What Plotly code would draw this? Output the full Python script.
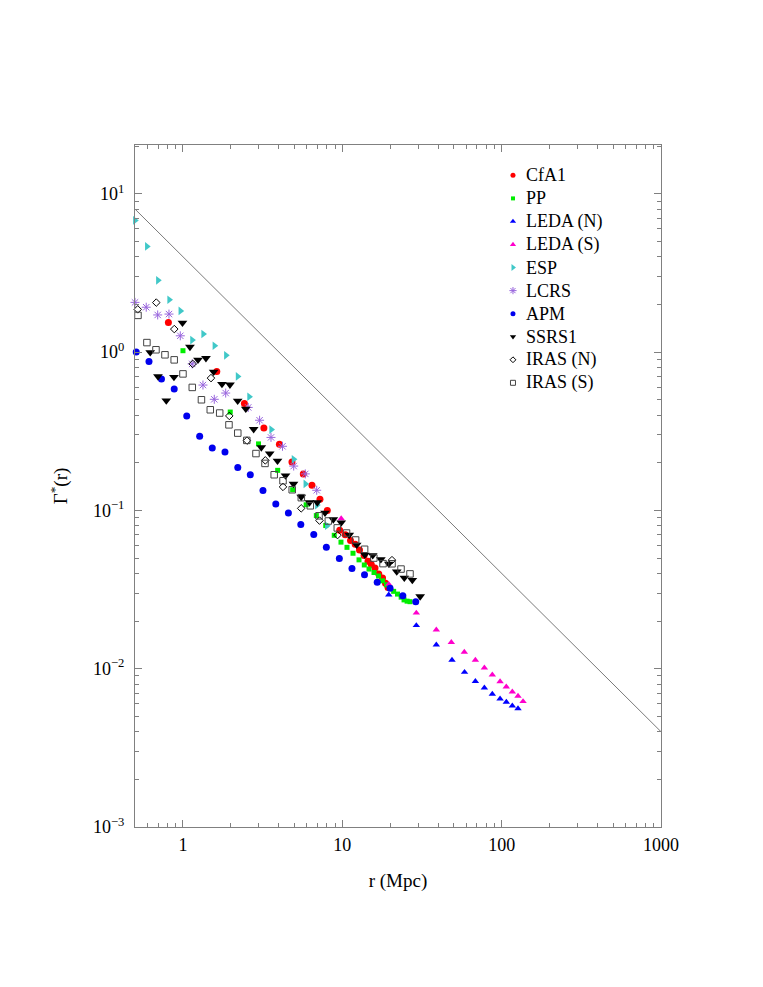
import plotly.graph_objects as go

# ---------------- data ----------------
cfa1_r = [0.81, 1.63, 2.43, 3.22, 4.03, 4.83, 5.69, 6.45, 7.24, 8.05, 9.63, 10.44, 11.26, 12.05,
          12.82, 13.7, 14.5, 15.2, 16.04, 16.93, 17.88, 18.67, 19.36]
cfa1_g = [1.54, 0.755, 0.473, 0.332, 0.262, 0.202, 0.170, 0.144, 0.1175, 0.0997, 0.075, 0.0701,
          0.0645, 0.0612, 0.0561, 0.0518, 0.0478, 0.0455, 0.0432, 0.0397, 0.0374, 0.0347, 0.0326]

pp_r = [1.0, 1.98, 2.98, 3.93, 4.88, 5.93, 6.87, 7.87, 8.9, 9.81, 10.7, 11.67, 12.73, 13.74, 14.71,
        15.81, 16.88, 17.88, 18.95, 20.0, 21.0, 22.2, 23.4, 24.4, 25.5, 26.6]
pp_g = [1.02, 0.418, 0.263, 0.179, 0.135, 0.1085, 0.0927, 0.0802, 0.0696, 0.063, 0.0584, 0.0536,
        0.0487, 0.0452, 0.0426, 0.0405, 0.0385, 0.0359, 0.0339, 0.0323, 0.0308, 0.0296, 0.0283,
        0.0272, 0.0267, 0.0265]

ledan_r = [19.56, 29.14, 38.9, 48.8, 58.5, 68.4, 77.9, 87.4, 97.7, 107.0, 116.7, 126.7]
ledan_g = [0.0293, 0.01877, 0.01414, 0.01133, 0.0095, 0.00833, 0.00757, 0.00691, 0.00645,
           0.00615, 0.00583, 0.0056]

ledas_r = [9.84, 19.56, 29.14, 38.9, 48.3, 58.3, 68.4, 77.9, 87.4, 97.7, 106.9, 116.7, 126.7, 136.2]
ledas_g = [0.0887, 0.0342, 0.0225, 0.0176, 0.01468, 0.01273, 0.01133, 0.01013, 0.00915, 0.00829,
           0.00769, 0.00715, 0.00671, 0.00621]

esp_r = [0.5, 0.594, 0.697, 0.820, 0.964, 1.142, 1.341, 1.577, 1.862, 2.205, 2.604, 3.58, 4.95,
         5.87, 6.94, 8.01]
esp_g = [6.79, 4.65, 2.84, 2.14, 1.82, 1.19, 1.30, 1.096, 0.954, 0.702, 0.522, 0.324, 0.210, 0.147,
         0.108, 0.080]

lcrs_r = [0.5, 0.588, 0.694, 0.817, 0.962, 1.142, 1.335, 1.572, 1.854, 2.567, 3.026, 3.568, 4.213,
          4.954, 5.857, 6.908]
lcrs_g = [2.06, 1.92, 1.716, 1.738, 1.267, 0.842, 0.619, 0.503, 0.551, 0.447, 0.371, 0.289, 0.254,
          0.1905, 0.170, 0.134]

apm_r = [0.509, 0.612, 0.733, 0.881, 1.056, 1.273, 1.527, 1.835, 2.208, 2.646, 3.178, 3.824, 4.588,
         5.49, 6.62, 7.94, 9.58, 11.5, 13.78, 16.56, 19.93, 23.98, 28.9]
apm_g = [1.00, 0.873, 0.675, 0.584, 0.395, 0.294, 0.2475, 0.234, 0.1866, 0.168, 0.1335, 0.1096,
         0.0964, 0.0813, 0.0705, 0.0585, 0.0497, 0.043, 0.0392, 0.0351, 0.0322, 0.0289, 0.0265]

ssrs_r = [0.623, 0.697, 0.786, 0.878, 0.993, 1.106, 1.242, 1.394, 1.558, 1.757, 1.972, 2.205, 2.479,
          2.778, 3.101, 3.502, 3.920, 4.400, 4.939, 5.521, 6.223, 6.966, 7.788, 8.779, 9.842, 11.05,
          12.31, 13.85, 15.52, 17.45, 19.59, 21.96, 24.5, 27.5, 30.8]
ssrs_g = [0.996, 0.702, 0.494, 0.695, 1.53, 1.078, 0.894, 0.914, 0.750, 0.628, 0.622, 0.492, 0.438,
          0.326, 0.250, 0.2285, 0.2057, 0.166, 0.147, 0.1217, 0.1123, 0.1123, 0.0966, 0.0877,
          0.0837, 0.070, 0.0606, 0.0524, 0.052, 0.0491, 0.046, 0.0411, 0.0375, 0.0363, 0.0286]

irasn_r = [0.52, 0.68, 0.882, 1.151, 1.499, 1.953, 2.522, 3.286, 4.244, 5.521, 7.193, 9.33, 20.5]
irasn_g = [1.861, 2.054, 1.397, 0.842, 0.685, 0.395, 0.276, 0.207, 0.1407, 0.103, 0.0862, 0.0698,
           0.0485]

irass_r = [0.522, 0.594, 0.677, 0.771, 0.881, 1.0, 1.144, 1.306, 1.484, 1.70, 1.944, 2.208, 2.515,
           2.872, 3.272, 3.737, 4.244, 4.848, 5.53, 6.297, 7.14, 8.17, 9.30, 10.63, 12.12, 13.8,
           15.77, 18.01, 20.51, 23.36, 26.6]
irass_g = [1.705, 1.148, 1.034, 0.961, 0.893, 0.728, 0.598, 0.4996, 0.432, 0.412, 0.347, 0.3077,
           0.2768, 0.2285, 0.198, 0.1679, 0.1538, 0.135, 0.1203, 0.1069, 0.0924, 0.0857, 0.0775,
           0.0719, 0.065, 0.0568, 0.050, 0.0461, 0.046, 0.0426, 0.0397]

# reference power law  Gamma* = A * r^slope
line_r = [0.5, 1000.0]
line_amp = 4.0
line_slope = -1.0

x_tickvals = [1, 10, 100, 1000]
x_ticktext = ["1", "10", "100", "1000"]
y_tickvals = [1e-3, 1e-2, 1e-1, 1e0, 1e1]
y_ticktext = ["10<sup>\u22123</sup>", "10<sup>\u22122</sup>", "10<sup>\u22121</sup>",
              "10<sup>0</sup>", "10<sup>1</sup>"]

# ---------------- figure ----------------
FONT = "Liberation Serif"
fig = go.Figure()

fig.add_trace(go.Scatter(
    x=line_r, y=[line_amp * r ** line_slope for r in line_r], mode="lines",
    line=dict(color="#7a7a7a", width=1), showlegend=False, hoverinfo="skip"))

# name, x, y, plot-marker, legend-marker size
series = [
    ("CfA1", cfa1_r, cfa1_g, dict(symbol="circle", size=7, color="#ff0000"), 5),
    ("PP", pp_r, pp_g, dict(symbol="square", size=5, color="#00ee00"), 4),
    ("LEDA (N)", ledan_r, ledan_g, dict(symbol="triangle-up", size=6.5, color="#0000ff"), 5.5),
    ("LEDA (S)", ledas_r, ledas_g, dict(symbol="triangle-up", size=6.5, color="#ff00cc"), 5.5),
    ("ESP", esp_r, esp_g, dict(symbol="triangle-right", size=7.5, color="#40c8c8"), 6),
    ("LCRS", lcrs_r, lcrs_g, dict(symbol="asterisk-open", size=7.5, color="#9966dd",
                                   line=dict(color="#9966dd", width=1)), 6),
    ("APM", apm_r, apm_g, dict(symbol="circle", size=7, color="#0000ee"), 5),
    ("SSRS1", ssrs_r, ssrs_g, dict(symbol="triangle-down", size=8.5, color="#000000"), 5.5),
    ("IRAS (N)", irasn_r, irasn_g, dict(symbol="diamond-open", size=5.8, color="#000000",
                                         line=dict(color="#000000", width=1)), 4.5),
    ("IRAS (S)", irass_r, irass_g, dict(symbol="square-open", size=6.5, color="#444444",
                                         line=dict(color="#444444", width=1)), 5),
]
for name, xs, ys, mk, _ in series:
    fig.add_trace(go.Scatter(x=xs, y=ys, mode="markers", name=name, marker=mk,
                             cliponaxis=False, showlegend=False))

# ---- legend drawn inside the plot (fractions of the plotting area) ----
LEG_MARK_X = 0.7186
LEG_TEXT_X = 0.7395
LEG_TOP_Y = 0.9555
LEG_STEP = 0.0338
for i, (name, _, _, mk, lsize) in enumerate(series):
    ly = LEG_TOP_Y - i * LEG_STEP
    lm = dict(mk)
    lm["size"] = lsize
    fig.add_trace(go.Scatter(x=[LEG_MARK_X], y=[ly], xaxis="x2", yaxis="y2", mode="markers",
                             marker=lm, showlegend=False, hoverinfo="skip", cliponaxis=False))
    fig.add_annotation(x=LEG_TEXT_X, y=ly, xref="paper", yref="paper", text=name,
                       showarrow=False, xanchor="left", yanchor="middle",
                       font=dict(family=FONT, size=18, color="#000000"))

x_minor = [m * 10 ** e for e in range(-1, 3) for m in range(2, 10) if m * 10 ** e >= 0.5]
y_minor = [m * 10 ** e for e in range(-3, 2) for m in range(2, 10) if m * 10 ** e <= 20]

axis_common = dict(
    type="log", showgrid=False, zeroline=False, showline=True, linecolor="#808080", linewidth=1,
    mirror="ticks", ticks="inside", ticklen=7, tickcolor="#808080", tickwidth=1,
    tickfont=dict(family=FONT, size=18, color="#000000"),
)

xaxis = dict(
    **axis_common, range=[-0.30103, 3], tickmode="array", tickvals=x_tickvals,
    ticktext=x_ticktext, ticklabelstandoff=1,
    minor=dict(tickmode="array", tickvals=x_minor, ticks="inside", ticklen=4,
               tickcolor="#808080", showgrid=False),
    title=dict(text="r (Mpc)", font=dict(family=FONT, size=19, color="#000000"), standoff=20),
)
yaxis = dict(
    **axis_common, range=[-3, 1.308], tickmode="array", tickvals=y_tickvals, ticktext=y_ticktext,
    ticklabelstandoff=6,
    minor=dict(tickmode="array", tickvals=y_minor, ticks="inside", ticklen=4,
               tickcolor="#808080", showgrid=False),
    title=dict(text="\u0393<sup>*</sup>(r)", font=dict(family=FONT, size=19, color="#000000"),
               standoff=20),
)

fig.update_layout(
    width=763, height=987,
    margin=dict(l=127, r=110, t=137, b=168),
    paper_bgcolor="white", plot_bgcolor="white",
    font=dict(family=FONT, size=18, color="#000000"),
    showlegend=False,
    xaxis=xaxis, yaxis=yaxis,
    xaxis2=dict(overlaying="x", range=[0, 1], visible=False, fixedrange=True,
                showticklabels=False),
    yaxis2=dict(overlaying="y", range=[0, 1], visible=False, fixedrange=True,
                showticklabels=False),
)

fig.write_html("out.html")
